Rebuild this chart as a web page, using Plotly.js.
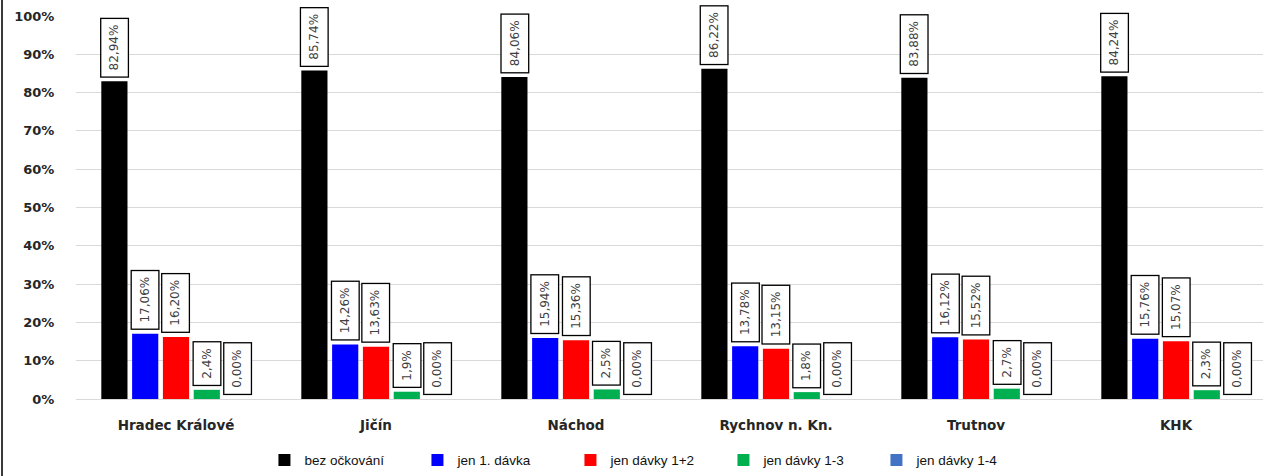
<!DOCTYPE html>
<html>
<head>
<meta charset="utf-8">
<script src="https://cdn.plot.ly/plotly-3.0.1.min.js"></script>
<style>
  html, body { margin: 0; padding: 0; background: #fff; }
  #wrap { position: relative; width: 1263px; height: 476px; overflow: hidden; }
  #chart { width: 1263px; height: 476px; }
  #edge { position: absolute; left: 1px; top: 0; width: 2px; height: 476px; background: #3a3a3a; }
</style>
</head>
<body>
<div id="wrap"><div id="chart"></div><div id="edge"></div></div>
<script>
// ---- data ----
const categories = ["Hradec Králové", "Jičín", "Náchod", "Rychnov n. Kn.", "Trutnov", "KHK"];
const seriesNames = ["bez očkování", "jen 1. dávka", "jen dávky 1+2", "jen dávky 1-3", "jen dávky 1-4"];
const bezOckovani = [82.94, 85.74, 84.06, 86.22, 83.88, 84.24];
const jen1Davka   = [17.06, 14.26, 15.94, 13.78, 16.12, 15.76];
const jenDavky12  = [16.20, 13.63, 15.36, 13.15, 15.52, 15.07];
const jenDavky13  = [2.4, 1.9, 2.5, 1.8, 2.7, 2.3];
const jenDavky14  = [0, 0, 0, 0, 0, 0];
const labelDecimals = [2, 2, 2, 1, 2];
const yTickValues = [0, 10, 20, 30, 40, 50, 60, 70, 80, 90, 100];

const seriesValues = [bezOckovani, jen1Davka, jenDavky12, jenDavky13, jenDavky14];
const colors = ["#000000", "#0000FF", "#FF0000", "#00B050", "#4472C4"];

const bargap = 0.23;
const nSeries = seriesValues.length;
const slot = (1 - bargap) / nSeries;

const traces = seriesValues.map((vals, i) => ({
  type: "bar",
  name: seriesNames[i],
  x: categories.map((c, k) => k),
  y: vals,
  marker: { color: colors[i] },
  hoverinfo: "skip"
}));

const annotations = [];
seriesValues.forEach((vals, i) => {
  vals.forEach((v, k) => {
    annotations.push({
      x: k + (i - (nSeries - 1) / 2) * slot,
      y: v,
      xref: "x", yref: "y",
      text: v.toFixed(labelDecimals[i]).replace(".", ",") + "%",
      textangle: -90,
      showarrow: false,
      xanchor: "center",
      yanchor: "bottom",
      yshift: 4,
      font: { family: "DejaVu Sans, sans-serif", size: 12, color: "#404040" },
      bgcolor: "#ffffff",
      bordercolor: "#000000",
      borderwidth: 1.3,
      borderpad: 6
    });
  });
});

const layout = {
  width: 1263,
  height: 476,
  margin: { l: 76, r: 0, t: 16, b: 77 },
  paper_bgcolor: "#ffffff",
  plot_bgcolor: "#ffffff",
  barmode: "group",
  bargap: bargap,
  bargroupgap: 0.15,
  showlegend: true,
  legend: {
    orientation: "h",
    x: 0.481, xanchor: "center",
    y: -0.16, yanchor: "middle",
    font: { family: "Liberation Sans, Arial, sans-serif", size: 13.5, color: "#111111" },
    traceorder: "normal",
    itemwidth: 30,
    entrywidth: 108,
    entrywidthmode: "pixels"
  },
  xaxis: {
    type: "linear",
    range: [-0.5, 5.435],
    tickvals: categories.map((c, k) => k),
    ticktext: categories,
    ticks: "outside",
    ticklen: 14,
    tickcolor: "rgba(0,0,0,0)",
    showgrid: false,
    zeroline: false,
    showline: false,
    tickfont: { family: "DejaVu Sans, sans-serif", size: 13.5, color: "#262626", weight: "bold" }
  },
  yaxis: {
    range: [0, 100],
    tickvals: yTickValues,
    ticktext: yTickValues.map(v => v + "%"),
    ticks: "outside",
    ticklen: 18,
    tickcolor: "rgba(0,0,0,0)",
    showgrid: true,
    gridcolor: "#d9d9d9",
    gridwidth: 1,
    zeroline: true,
    zerolinecolor: "#d9d9d9",
    zerolinewidth: 1,
    showline: false,
    tickfont: { family: "DejaVu Sans, sans-serif", size: 13, color: "#262626", weight: "bold" }
  },
  annotations: annotations
};

Plotly.newPlot("chart", traces, layout, { displayModeBar: false, staticPlot: true });
</script>
</body>
</html>
